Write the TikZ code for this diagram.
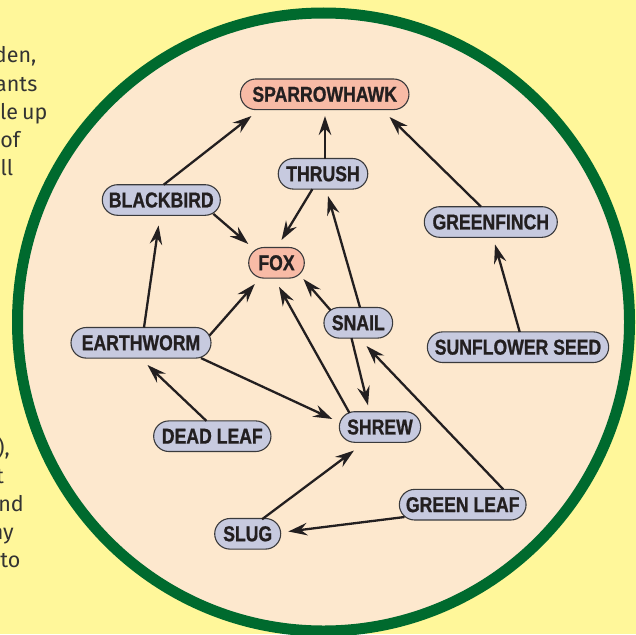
\documentclass[tikz,border=0pt]{standalone}
\usepackage{fontspec}
\setmainfont{Liberation Sans}
\newfontfamily\nodefont[FakeStretch=0.82, FakeBold=0.9]{Liberation Sans Bold}
\newfontfamily\bodyfont{Fira Sans}
\usetikzlibrary{arrows.meta,calc}
\definecolor{bgyellow}{HTML}{FFF79A}
\definecolor{disc}{HTML}{FDE8CE}
\definecolor{ring}{HTML}{006A2E}
\definecolor{nodeblue}{HTML}{C7CADF}
\definecolor{nodepink}{HTML}{F8BBA6}
\definecolor{nodeedge}{HTML}{3A3A3C}
\definecolor{ink}{HTML}{231F20}
\definecolor{bodyink}{HTML}{333333}
\begin{document}
\begin{tikzpicture}[x=1pt,y=-1pt,
  food/.style={draw=nodeedge, line width=1.1pt, fill=nodeblue, rounded corners=15.3pt,
    minimum height=30.6pt, inner sep=0pt, text=ink,
    font=\nodefont\fontsize{21.5}{21.5}\selectfont},
  pred/.style={food, fill=nodepink},
  arr/.style={draw=ink, line width=2.3pt, -{Stealth[length=19pt,width=12.5pt,inset=6.5pt]}},
  bodytext/.style={anchor=base east, inner sep=0pt, text=bodyink,
    font=\bodyfont\fontsize{21.5}{21.5}\selectfont}]
\useasboundingbox (0,0) rectangle (636,634);
\begin{scope}
\clip (0,0) rectangle (636,634);
\fill[bgyellow] (0,0) rectangle (636,634);
% page text cut by the picture
\node[bodytext] (t1) at (36.5,63) {den,};
\node[bodytext] (t2) at (37.5,91) {ants};
\node[bodytext] (t3) at (47.5,119) {le\hspace{4pt}up};
\node[bodytext] (t4) at (20.3,147) {of};
\node[bodytext] (t5) at (13.4,175) {all};
\node[bodytext] (t6) at (10,455) {),};
\node[bodytext] (t7) at (4,483) {t};
\node[bodytext] (t8) at (24,511) {nd};
\node[bodytext] (t9) at (14,539) {ny};
\node[bodytext] (t10) at (20.5,567) {to};
% disc
\draw[ring, line width=11pt, fill=disc] (323.5,322) ellipse [x radius=306, y radius=309];
\end{scope}
% nodes
\node[pred, minimum width=168.5pt] (sh) at (324.7,94.3) {SPARROWHAWK};
\node[food, minimum width=89.5pt] (th) at (323,173.8) {THRUSH};
\node[food, minimum width=118pt] (bb) at (161.3,200) {BLACKBIRD};
\node[pred, minimum width=55.6pt] (fox) at (276.5,262.8) {FOX};
\node[food, minimum width=133pt] (gf) at (490.8,222) {GREENFINCH};
\node[food, minimum width=181.3pt] (ss) at (518,347.2) {SUNFLOWER SEED};
\node[food, minimum width=126.7pt] (gl) at (462.7,504.7) {GREEN LEAF};
\node[food, minimum width=140pt] (ew) at (141,342.8) {EARTHWORM};
\node[food, minimum width=68.7pt] (sn) at (358.3,322.8) {SNAIL};
\node[food, minimum width=81.3pt] (sr) at (380,427) {SHREW};
\node[food, minimum width=117.3pt] (dl) at (212.3,436.2) {DEAD LEAF};
\node[food, minimum width=66pt] (sl) at (247.7,533.8) {SLUG};
% connectors
\draw[arr] ($(bb)+(2.4,-15.3)$) -- ($(sh)+(-73.2,21.7)$);
\draw[arr] ($(th)+(2,-15.3)$) -- ($(sh)+(0.3,21.7)$);
\draw[arr] ($(gf)+(-9.8,-15.3)$) -- ($(sh)+(64.8,22.7)$);
\draw[arr] ($(th)+(-10.6,15.3)$) -- ($(fox)+(5,-22.8)$);
\draw[arr] ($(bb)+(52,13.8)$) -- ($(fox)+(-28.2,-18.8)$);
\draw[arr] ($(ew)+(3,-15.3)$) -- ($(bb)+(-2.7,25.5)$);
\draw[arr] ($(ew)+(68.5,-7.3)$) -- ($(fox)+(-21.7,21.2)$);
\draw[arr] ($(ew)+(60,15.3)$) -- ($(sr)+(-47.7,-8)$);
\draw[arr] ($(dl)+(-5.9,-15.3)$) -- ($(ew)+(6.5,22.2)$);
\draw[arr] ($(sn)+(-27.7,-12.5)$) -- ($(fox)+(26.9,16.2)$);
\draw[arr] ($(sn)+(1.7,-15.3)$) -- ($(th)+(5,22.2)$);
\draw[arr] ($(sn)+(-6.8,15.3)$) -- ($(sr)+(-12,-21.7)$);
\draw[arr] ($(sr)+(-30.5,-14)$) -- ($(fox)+(2.5,24)$);
\draw[arr] ($(sl)+(14.3,-14.5)$) -- ($(sr)+(-26,23.5)$);
\draw[arr] ($(gl)+(-58.2,12.3)$) -- ($(sl)+(40.6,-2.3)$);
\draw[arr] ($(gl)+(40.6,-15.3)$) -- ($(sn)+(8.2,23.2)$);
\draw[arr] ($(ss)+(1.7,-15.2)$) -- ($(gf)+(4.2,22.4)$);
\end{tikzpicture}
\end{document}
